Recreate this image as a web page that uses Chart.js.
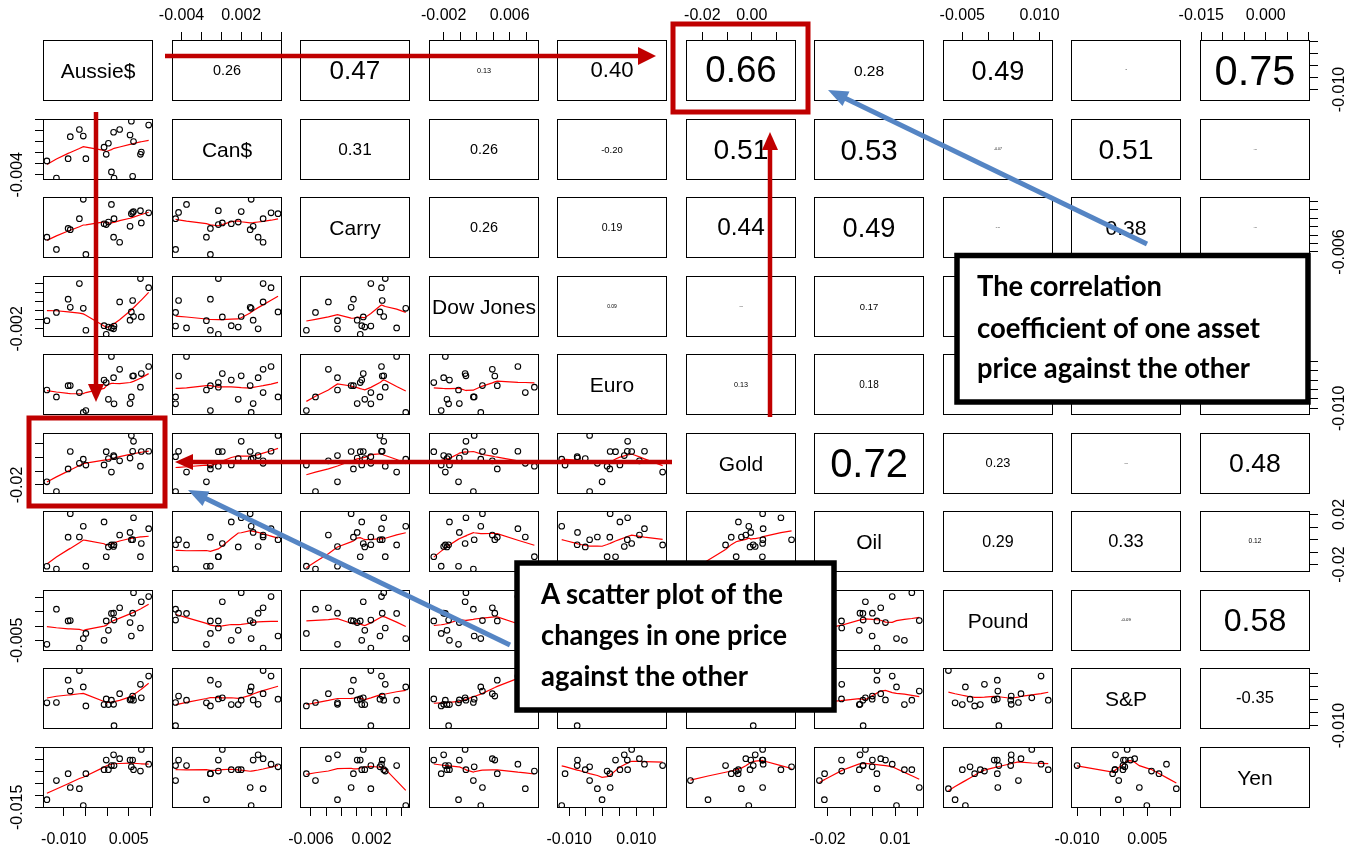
<!DOCTYPE html>
<html lang="en">
<head>
<meta charset="utf-8">
<title>Price changes of ten assets - scatterplot matrix</title>
<script src="https://cdn.jsdelivr.net/npm/chart.js@4.4.1/dist/chart.umd.min.js"></script>
<style>
    html, body { margin: 0; padding: 0; background: #fff; }
    #matrix { position: relative; width: 1361px; height: 850px; overflow: hidden; }
    #matrix canvas { position: absolute; }
    .cell-text {
        position: absolute; display: flex; align-items: center; justify-content: center;
        font-family: "Liberation Sans", Arial, sans-serif; color: #000; line-height: 1; white-space: nowrap;
    }
    #notes { position: absolute; left: 0; top: 0; }
</style>
</head>
<body>
<div id="matrix"></div>
<script>
// Asset names (diagonal)
const assets = ['Aussie$', 'Can$', 'Carry', 'Dow Jones', 'Euro', 'Gold', 'Oil', 'Pound', 'S&P', 'Yen'];

// Price changes, one value per period, same period order in every array
const aussie    = [-0.0139, -0.0117, -0.0090, -0.0085, -0.0064, -0.0055, -0.0049, -0.0007, -0.0002, 0.0003, 0.0010, 0.0015, 0.0016, 0.0029, 0.0053, 0.0056, 0.0059, 0.0061, 0.0077, 0.0079, 0.0096];
const canDollar = [-0.0015, -0.0046, -0.0011, 0.0029, 0.0042, 0.0030, -0.0011, 0.0010, -0.0003, 0.0017, -0.0035, 0.0037, -0.0046, 0.0042, 0.0032, 0.0057, -0.0043, 0.0020, -0.0003, 0.0001, 0.0050];
const carry     = [-0.0025, -0.0054, -0.0004, -0.0007, 0.0019, 0.0065, -0.0066, 0.0007, 0.0005, 0.0011, 0.0053, -0.0025, 0.0019, -0.0037, 0.0001, 0.0031, 0.0034, 0.0036, 0.0038, 0.0009, 0.0033];
const dowJones  = [-0.0002, 0.0016, 0.0045, 0.0027, 0.0079, 0.0025, -0.0023, -0.0013, -0.0032, -0.0016, -0.0018, -0.0020, -0.0014, 0.0039, -0.0001, 0.0017, 0.0042, 0.0007, 0.0090, 0.0006, 0.0070];
const euro      = [-0.0002, -0.0039, 0.0021, 0.0022, -0.0016, -0.0122, -0.0112, 0.0051, 0.0038, -0.0052, 0.0178, 0.0064, -0.0076, 0.0109, -0.0075, -0.0039, 0.0073, 0.0074, 0.0013, 0.0086, 0.0124];
const gold      = [-0.0177, -0.0248, -0.0083, 0.0044, -0.0042, -0.0012, -0.0055, -0.0054, 0.0043, -0.0007, -0.0106, 0.0014, 0.0006, -0.0024, -0.0004, 0.0161, 0.0045, 0.0118, -0.0063, 0.0044, 0.0046];
const oil       = [-0.0214, -0.0236, 0.0019, 0.0207, 0.0020, 0.0106, -0.0213, 0.0141, -0.0138, -0.0059, -0.0043, -0.0056, -0.0042, 0.0036, 0.0057, -0.0002, -0.0001, 0.0174, -0.0137, -0.0032, 0.0087];
const pound     = [-0.0064, 0.0059, 0.0018, 0.0019, -0.0077, -0.0044, -0.0026, -0.0050, 0.0018, -0.0015, 0.0044, 0.0045, 0.0021, 0.0064, 0.0012, -0.0035, 0.0045, 0.0117, -0.0007, 0.0085, 0.0103];
const sAndP     = [-0.0012, -0.0011, 0.0075, 0.0033, 0.0112, 0.0049, -0.0024, -0.0019, 0.0003, -0.0019, -0.0002, -0.0018, -0.0100, 0.0023, -0.0001, 0.0002, 0.0014, -0.0002, 0.0059, 0.0007, 0.0091];
const yen       = [-0.0118, -0.0038, -0.0009, -0.0067, -0.0072, -0.0143, -0.0009, 0.0008, 0.0048, 0.0008, 0.0025, 0.0070, 0.0025, 0.0054, 0.0048, 0.0020, 0.0048, 0.0008, 0.0002, 0.0093, 0.0031];
const series = [aussie, canDollar, carry, dowJones, euro, gold, oil, pound, sAndP, yen];

// Axis limits per asset (same for its column and its row)
const axisMin = [-0.0148, -0.00496, -0.00744, -0.00378, -0.0136, -0.0266, -0.0260, -0.00875, -0.0113, -0.0153];
const axisMax = [0.0106, 0.0061, 0.00706, 0.00956, 0.0191, 0.0179, 0.0228, 0.01262, 0.0122, 0.0103];

// Tick marks per asset
const aussieTicks = [-0.010, -0.005, 0, 0.005, 0.010];
const canTicks    = [-0.004, -0.002, 0, 0.002, 0.004, 0.006];
const carryTicks  = [-0.006, -0.004, -0.002, 0, 0.002, 0.004, 0.006];
const dowTicks    = [-0.002, 0, 0.002, 0.004, 0.006, 0.008];
const euroTicks   = [-0.010, -0.005, 0, 0.005, 0.010, 0.015];
const goldTicks   = [-0.02, -0.01, 0, 0.01];
const oilTicks    = [-0.02, -0.01, 0, 0.01, 0.02];
const poundTicks  = [-0.005, 0, 0.005, 0.010];
const spTicks     = [-0.010, -0.005, 0, 0.005, 0.010];
const yenTicks    = [-0.015, -0.010, -0.005, 0, 0.005, 0.010];
const tickValues = [aussieTicks, canTicks, carryTicks, dowTicks, euroTicks, goldTicks, oilTicks, poundTicks, spTicks, yenTicks];

// Tick labels that are printed: outer x axes (bottom / top) and outer y axes (right / left)
const xLabels = [['-0.010', '0.005'], ['-0.004', '0.002'], ['-0.006', '0.002'], ['-0.002', '0.006'], ['-0.010', '0.010'],
                 ['-0.02', '0.00'], ['-0.02', '0.01'], ['-0.005', '0.010'], ['-0.010', '0.005'], ['-0.015', '0.000']];
const yLabels = [['-0.010'], ['-0.004'], ['-0.006'], ['-0.002'], ['-0.010'], ['-0.02'], ['-0.02', '0.02'], ['-0.005'], ['-0.010'], ['-0.015']];

// Correlation coefficients (upper triangle, row by row)
const corrAussie = [0.26, 0.47, 0.13, 0.40, 0.66, 0.28, 0.49, -0.02, 0.75];
const corrCan    = [0.31, 0.26, -0.20, 0.51, 0.53, -0.07, 0.51, -0.03];
const corrCarry  = [0.26, 0.19, 0.44, 0.49, 0.04, 0.38, -0.03];
const corrDow    = [0.09, 0.03, 0.17, 0.21, 0.55, -0.11];
const corrEuro   = [0.13, 0.18, 0.41, -0.06, 0.27];
const corrGold   = [0.72, 0.23, 0.03, 0.48];
const corrOil    = [0.29, 0.33, 0.12];
const corrPound  = [-0.09, 0.58];
const corrSP     = [-0.35];
const corrRows = [corrAussie, corrCan, corrCarry, corrDow, corrEuro, corrGold, corrOil, corrPound, corrSP, []];

const PANEL_W = 110, PANEL_H = 61;
const COL_X0 = 43, COL_STEP = 128.56, ROW_Y0 = 40, ROW_STEP = 78.56;
const M = 48;          // canvas margin round each panel
const TICK_LEN = 8;
const FONT_FAMILY = '"Liberation Sans", Arial, sans-serif';
const tickFont = { family: FONT_FAMILY, size: 16 };

const matrix = document.getElementById('matrix');
const measureCtx = document.createElement('canvas').getContext('2d');

function textWidth(txt, px) {
    measureCtx.font = `${px}px ${FONT_FAMILY}`;
    return measureCtx.measureText(txt).width;
}

// R's lowess (clowess), f = 2/3, iter = 3
function lowest(x, y, n, xs, nleft, nright, userw, rw) {
    const range = x[n - 1] - x[0];
    const h = Math.max(xs - x[nleft], x[nright] - xs);
    const h9 = 0.999 * h, h1 = 0.001 * h;
    const w = new Array(n).fill(0);
    let a = 0, j = nleft;
    while (j < n) {
        const r = Math.abs(x[j] - xs);
        if (r <= h9) {
            w[j] = r <= h1 ? 1 : Math.pow(1 - Math.pow(r / h, 3), 3);
            if (userw) w[j] *= rw[j];
            a += w[j];
        } else if (x[j] > xs) break;
        j++;
    }
    const nrt = j - 1;
    if (a <= 0) return null;
    for (j = nleft; j <= nrt; j++) w[j] /= a;
    if (h > 0) {
        a = 0;
        for (j = nleft; j <= nrt; j++) a += w[j] * x[j];
        let b = xs - a, c = 0;
        for (j = nleft; j <= nrt; j++) c += w[j] * (x[j] - a) * (x[j] - a);
        if (Math.sqrt(c) > 0.001 * range) {
            b /= c;
            for (j = nleft; j <= nrt; j++) w[j] *= (b * (x[j] - a) + 1);
        }
    }
    let ys = 0;
    for (j = nleft; j <= nrt; j++) ys += w[j] * y[j];
    return ys;
}

function lowess(xIn, yIn, f = 2 / 3, iter = 3) {
    const n = xIn.length;
    const order = xIn.map((_, i) => i).sort((a, b) => xIn[a] - xIn[b]);
    const x = order.map(i => xIn[i]), y = order.map(i => yIn[i]);
    const ys = new Array(n).fill(0), rw = new Array(n).fill(1), res = new Array(n).fill(0);
    const ns = Math.max(2, Math.min(n, Math.floor(f * n + 1e-7)));
    const delta = 0.01 * (x[n - 1] - x[0]);
    for (let it = 1; it <= iter + 1; it++) {
        let nleft = 0, nright = ns - 1, last = -1, i = 0;
        for (;;) {
            if (nright < n - 1) {
                const d1 = x[i] - x[nleft], d2 = x[nright + 1] - x[i];
                if (d1 > d2) { nleft++; nright++; continue; }
            }
            const fit = lowest(x, y, n, x[i], nleft, nright, it > 1, rw);
            ys[i] = fit === null ? y[i] : fit;
            if (last < i - 1) {
                const denom = x[i] - x[last];
                for (let j = last + 1; j < i; j++) {
                    const al = (x[j] - x[last]) / denom;
                    ys[j] = al * ys[i] + (1 - al) * ys[last];
                }
            }
            last = i;
            const cut = x[last] + delta;
            for (i = last + 1; i < n; i++) {
                if (x[i] > cut) break;
                if (x[i] === x[last]) { ys[i] = ys[last]; last = i; }
            }
            i = Math.max(last + 1, i - 1);
            if (last >= n - 1) break;
        }
        for (let k = 0; k < n; k++) res[k] = y[k] - ys[k];
        if (it > iter) break;
        const sc = res.reduce((s, v) => s + Math.abs(v), 0) / n;
        const ar = res.map(Math.abs);
        const sorted = [...ar].sort((a, b) => a - b);
        const m1 = Math.floor(n / 2);
        const cmad = n % 2 === 0 ? 3 * (sorted[m1] + sorted[m1 - 1]) : 6 * sorted[m1];
        if (cmad < 1e-7 * sc) break;
        const c9 = 0.999 * cmad, c1 = 0.001 * cmad;
        for (let k = 0; k < n; k++) {
            const r = ar[k];
            rw[k] = r <= c1 ? 1 : (r <= c9 ? Math.pow(1 - Math.pow(r / cmad, 2), 2) : 0);
        }
    }
    return x.map((v, k) => ({ x: v, y: ys[k] }));
}

// box round every panel
const panelBox = {
    id: 'panelBox',
    afterDraw(chart) {
        const { ctx, chartArea: a } = chart;
        ctx.save();
        ctx.strokeStyle = '#000';
        ctx.lineWidth = 1;
        ctx.strokeRect(a.left + 0.5, a.top + 0.5, a.width - 1, a.height - 1);
        ctx.restore();
    }
};

function axisOptions(v, shown, position, labels, horizontal) {
    const decimals = labels[0].split('.')[1].length;
    const opts = {
        type: 'linear',
        min: axisMin[v],
        max: axisMax[v],
        position: position,
        display: shown,
        afterBuildTicks: s => { s.ticks = tickValues[v].map(value => ({ value })); },
        afterFit: s => {
            if (!shown) return;
            if (horizontal) s.height = M; else s.width = M;
        },
        grid: { display: true, drawOnChartArea: false, drawTicks: true, tickLength: TICK_LEN, color: '#000', lineWidth: 1 },
        border: { display: false },
        ticks: {
            autoSkip: false,
            color: '#000',
            font: tickFont,
            minRotation: 0,
            maxRotation: 0,
            padding: position === 'top' ? 7 : 14,
            callback: value => {
                const s = Number(value).toFixed(decimals);
                return labels.includes(s) ? s : '';
            }
        }
    };
    if (!horizontal) {
        const widest = Math.max(...labels.map(t => textWidth(t, tickFont.size)));
        opts.ticks.minRotation = 90;
        opts.ticks.maxRotation = 90;
        opts.ticks.crossAlign = 'center';
        opts.ticks.padding = (position === 'left' ? 25 : 30) - TICK_LEN - widest / 2;
    }
    return opts;
}

function addText(txt, left, top, px) {
    const div = document.createElement('div');
    div.className = 'cell-text';
    div.style.left = left + 'px';
    div.style.top = top + 'px';
    div.style.width = PANEL_W + 'px';
    div.style.height = PANEL_H + 'px';
    div.style.fontSize = px + 'px';
    div.textContent = txt;
    matrix.appendChild(div);
}

function buildPanel(row, col) {
    const left = Math.round(COL_X0 + col * COL_STEP);
    const top = Math.round(ROW_Y0 + row * ROW_STEP);

    const canvas = document.createElement('canvas');
    canvas.width = PANEL_W + 2 * M;
    canvas.height = PANEL_H + 2 * M;
    canvas.style.left = (left - M) + 'px';
    canvas.style.top = (top - M) + 'px';
    canvas.style.width = canvas.width + 'px';
    canvas.style.height = canvas.height + 'px';
    matrix.appendChild(canvas);

    const showTop = row === 0 && col % 2 === 1;
    const showBottom = row === 9 && col % 2 === 0;
    const showLeft = col === 0 && row % 2 === 1;
    const showRight = col === 9 && row % 2 === 0;

    const datasets = [];
    if (row > col) {
        const xs = series[col], ys = series[row];
        datasets.push({
            data: xs.map((x, i) => ({ x: x, y: ys[i] })),
            showLine: false,
            pointStyle: 'circle',
            pointRadius: 2.8,
            pointBorderWidth: 1.1,
            pointBorderColor: '#000',
            pointBackgroundColor: 'rgba(0,0,0,0)'
        });
        datasets.push({
            data: lowess(xs, ys),
            showLine: true,
            borderColor: '#ff0000',
            borderWidth: 1.2,
            pointRadius: 0,
            fill: false
        });
    }

    new Chart(canvas, {
        type: 'scatter',
        data: { datasets: datasets },
        options: {
            responsive: false,
            animation: false,
            events: [],
            layout: {
                padding: {
                    top: showTop ? 0 : M,
                    bottom: showBottom ? 0 : M,
                    left: showLeft ? 0 : M,
                    right: showRight ? 0 : M
                }
            },
            plugins: { legend: { display: false }, tooltip: { enabled: false } },
            scales: {
                x: axisOptions(col, showTop || showBottom, showTop ? 'top' : 'bottom', xLabels[col], true),
                y: axisOptions(row, showLeft || showRight, showLeft ? 'left' : 'right', yLabels[row], false)
            }
        },
        plugins: [panelBox]
    });

    if (row === col) {
        addText(assets[row], left, top, 21);
    } else if (row < col) {
        const r = corrRows[row][col - row - 1];
        const txt = r.toFixed(2);
        // text width proportional to |r|
        const px = 100 * (108 * Math.abs(r)) / textWidth(txt, 100);
        addText(txt, left, top, px.toFixed(2));
    }
}

for (let row = 0; row < 10; row++) {
    for (let col = 0; col < 10; col++) {
        buildPanel(row, col);
    }
}

// call-out annotations
function arrow(x1, y1, x2, y2, color, width, headLen, headW) {
    const len = Math.hypot(x2 - x1, y2 - y1);
    const ux = (x2 - x1) / len, uy = (y2 - y1) / len;
    const bx = x2 - ux * headLen, by = y2 - uy * headLen;
    const px = -uy, py = ux;
    return `<line x1="${x1}" y1="${y1}" x2="${bx + ux * 2}" y2="${by + uy * 2}" stroke="${color}" stroke-width="${width}"/>` +
        `<polygon points="${x2},${y2} ${bx + px * headW},${by + py * headW} ${bx - px * headW},${by - py * headW}" fill="${color}"/>`;
}

const RED = '#c00000', BLUE = '#5585c4';
const noteFont = 'font-family="Lato, \'Open Sans\', sans-serif" font-weight="700" font-size="29" fill="#000"';
const svg = `
<svg id="notes" width="1361" height="850" xmlns="http://www.w3.org/2000/svg">
  <rect x="673" y="24" width="135" height="88" fill="none" stroke="${RED}" stroke-width="5"/>
  <rect x="29" y="418" width="136" height="88" fill="none" stroke="${RED}" stroke-width="5"/>
  ${arrow(165, 56, 656, 56, RED, 4.5, 18, 9)}
  ${arrow(96, 112, 96, 402, RED, 4.5, 18, 8)}
  ${arrow(770, 417, 770, 132, RED, 4.5, 18, 8)}
  ${arrow(672, 462, 175, 462, RED, 4.5, 18, 8)}
  ${arrow(1147, 244, 828, 90, BLUE, 5, 20, 8)}
  ${arrow(510, 645, 188, 490, BLUE, 5, 20, 8)}
  <rect x="957" y="255.5" width="351" height="146.5" fill="#fff" stroke="#000" stroke-width="5.5"/>
  <text x="977" y="296" ${noteFont} textLength="185" lengthAdjust="spacingAndGlyphs">The correlation</text>
  <text x="977" y="338" ${noteFont} textLength="283" lengthAdjust="spacingAndGlyphs">coefficient of one asset</text>
  <text x="977" y="378" ${noteFont} textLength="273" lengthAdjust="spacingAndGlyphs">price against the other</text>
  <rect x="517" y="563" width="317" height="147" fill="#fff" stroke="#000" stroke-width="5.5"/>
  <text x="541" y="604" ${noteFont} textLength="242" lengthAdjust="spacingAndGlyphs">A scatter plot of the</text>
  <text x="541" y="645" ${noteFont} textLength="246" lengthAdjust="spacingAndGlyphs">changes in one price</text>
  <text x="541" y="686" ${noteFont} textLength="207" lengthAdjust="spacingAndGlyphs">against the other</text>
</svg>`;
matrix.insertAdjacentHTML('beforeend', svg);
</script>
</body>
</html>
